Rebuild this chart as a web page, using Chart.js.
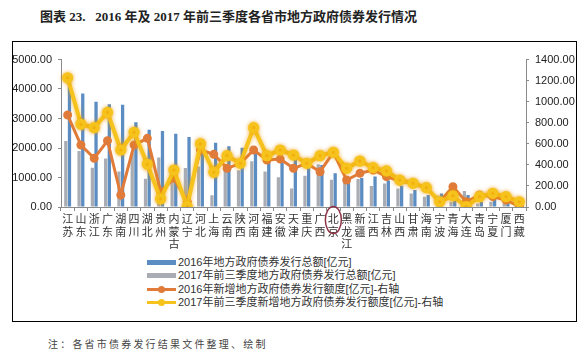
<!DOCTYPE html>
<html>
<head>
<meta charset="utf-8">
<script src="https://cdn.jsdelivr.net/npm/chart.js@4/dist/chart.umd.min.js"></script>
<style>
  body { margin: 0; width: 586px; height: 354px; background: #fff; position: relative; overflow: hidden;
    font-family: "Liberation Sans", "Noto Sans CJK SC", sans-serif; }
  #title { position: absolute; left: 40px; top: 6px; font-family: "Liberation Serif", "Noto Sans CJK SC", serif;
    font-weight: bold; font-size: 13px; color: #222; white-space: nowrap; }
  #box { position: absolute; left: 12px; top: 41px; width: 563px; height: 279px; border: 1px solid #000; overflow: hidden; }
  #chart { position: absolute; left: 0; top: 0; }
  #legend { position: absolute; left: 134px; top: 214px; font-size: 11px; color: #333; }
  #legend .row { height: 13.4px; line-height: 13.4px; white-space: nowrap; position: relative; }
  #legend .swatch { display: inline-block; width: 29px; height: 13px; vertical-align: top; position: relative; margin-right: 2px; }
  #legend .swatch i { position: absolute; left: 0; right: 0; top: 50%; }
  #legend .swatch b { position: absolute; left: 50%; top: 50%; border-radius: 50%; }
  #note { position: absolute; left: 48px; top: 336px; font-size: 10px; letter-spacing: 2.2px; color: #444; white-space: nowrap;
    font-family: "Noto Sans CJK SC", sans-serif; }
</style>
</head>
<body>
<div id="title">图表 23.&nbsp;&nbsp; 2016 年及 2017 年前三季度各省市地方政府债券发行情况</div>
<div id="box">
  <canvas id="chart" width="563" height="210"></canvas>
  <div id="legend"></div>
</div>
<div id="note">注：各省市债券发行结果文件整理、绘制</div>
<script>
// --data
var categories = ['江苏', '山东', '浙江', '广东', '湖南', '四川', '湖北', '贵州', '内蒙古', '辽宁', '河北', '上海',
  '云南', '陕西', '河南', '福建', '安徽', '天津', '重庆', '广西', '北京', '黑龙江', '新疆', '江西', '吉林', '山西',
  '甘肃', '海南', '宁波', '青海', '大连', '青岛', '宁夏', '厦门', '西藏'];
var total2016 = [4300, 3850, 3570, 3480, 3470, 2870, 2620, 2580, 2480, 2370, 2300, 2180, 2060, 2010, 1820, 1600,
  1540, 1630, 1310, 1420, 1140, 880, 980, 1030, 900, 720, 580, 410, 460, 290, 410, 180, 320, 180, 130];
var total2017 = [2240, 1900, 1330, 1640, 1200, 1850, 960, 1680, 1100, 1320, 1370, 400, 1300, 1250, 1550, 1200,
  1010, 630, 1060, 1450, 920, 830, 950, 710, 800, 630, 460, 350, 380, 180, 540, 120, 180, 120, 70];
var new2016 = [873, 588, 462, 629, 114, 588, 652, 145, 272, 50, 541, 500, 367, 414, 541, 446, 455, 367, 414, 335,
  519, 256, 320, 351, 288, 247, 225, 183, 50, 193, 50, 114, 98, 66, 5];
var new2017 = [1227, 785, 753, 898, 541, 709, 405, 76, 351, 3, 600, 329, 487, 414, 753, 487, 541, 493, 414, 487,
  519, 367, 436, 373, 342, 256, 225, 183, 50, 107, 3, 98, 130, 98, 50];
var leftTicks = [0, 5000, 500];
var rightTicks = [0, 1400, 200];
var seriesNames = ['2016年地方政府债券发行总额[亿元]', '2017年前三季度地方政府债券发行总额[亿元]',
  '2016年新增地方政府债券发行额度[亿元]-右轴', '2017年前三季度新增地方政府债券发行额度[亿元]-右轴'];
var circled = '北京';

var labelFont = {family: '"Liberation Sans", "Noto Sans CJK SC", sans-serif', size: 11};

// soft glow for the yellow line
var glow = {
  id: 'glow',
  beforeDatasetDraw: function(chart, args) {
    if (args.index === 3) {
      chart.ctx.save();
      chart.ctx.shadowColor = 'rgba(240,160,0,0.7)';
      chart.ctx.shadowBlur = 4;
    }
  },
  afterDatasetDraw: function(chart, args) {
    if (args.index === 3) chart.ctx.restore();
  }
};

// red ring round one category label
var ring = {
  id: 'ring',
  afterDraw: function(chart) {
    var x = chart.scales.x.getPixelForValue(categories.indexOf(circled));
    var y = chart.chartArea.bottom + 13;
    var ctx = chart.ctx;
    ctx.save();
    ctx.strokeStyle = '#8e3346';
    ctx.lineWidth = 1.5;
    ctx.beginPath();
    ctx.ellipse(x, y, 8, 13.5, 0, 0, Math.PI * 2);
    ctx.stroke();
    ctx.restore();
  }
};

var colors = ['#5b8cc2', '#a9acb2', '#e07b3a', '#f6c21c'];

var chart = new Chart(document.getElementById('chart'), {
  type: 'bar',
  data: {
    labels: categories,
    datasets: [
      {label: seriesNames[0], data: total2016, backgroundColor: colors[0], yAxisID: 'y', order: 3,
        categoryPercentage: 0.55, barPercentage: 0.9},
      {label: seriesNames[1], data: total2017, backgroundColor: colors[1], yAxisID: 'y', order: 2,
        categoryPercentage: 0.55, barPercentage: 0.9},
      {label: seriesNames[2], type: 'line', data: new2016, borderColor: colors[2], backgroundColor: colors[2],
        borderWidth: 3, pointRadius: 3, pointHoverRadius: 3, yAxisID: 'y1', order: 1},
      {label: seriesNames[3], type: 'line', data: new2017, borderColor: colors[3], backgroundColor: colors[3],
        borderWidth: 4, pointRadius: 3.6, pointHoverRadius: 3.6, yAxisID: 'y1', order: 0}
    ]
  },
  options: {
    responsive: false,
    animation: false,
    layout: {padding: {top: 17.5, left: 0, right: 0, bottom: 0}},
    plugins: {legend: {display: false}, tooltip: {enabled: false}},
    scales: {
      x: {
        grid: {drawOnChartArea: false, tickLength: 4, color: '#8a8a8a'},
        border: {color: '#8a8a8a'},
        ticks: {
          autoSkip: false, maxRotation: 0, minRotation: 0, padding: 3, color: '#333',
          font: {family: labelFont.family, size: 11, lineHeight: 1.12},
          callback: function(v, i) { return categories[i].split(''); }
        },
        afterFit: function(scale) { scale.height = 45; }
      },
      y: {
        position: 'left', min: leftTicks[0], max: leftTicks[1],
        grid: {drawOnChartArea: false, tickLength: 3, color: '#8a8a8a'},
        border: {color: '#8a8a8a'},
        ticks: {stepSize: leftTicks[2], padding: 6, color: '#222', font: labelFont,
          callback: function(v) { return v.toFixed(2); }},
        afterFit: function(scale) { scale.width = 48; }
      },
      y1: {
        position: 'right', min: rightTicks[0], max: rightTicks[1],
        grid: {drawOnChartArea: false, tickLength: 3, color: '#8a8a8a'},
        border: {color: '#8a8a8a'},
        ticks: {stepSize: rightTicks[2], padding: 6, color: '#222', font: labelFont,
          callback: function(v) { return v.toFixed(2); }},
        afterFit: function(scale) { scale.width = 50; }
      }
    }
  },
  plugins: [glow, ring]
});

// --legend, one entry per row
var legend = document.getElementById('legend');
chart.data.datasets.forEach(function(ds, i) {
  var row = document.createElement('div');
  row.className = 'row';
  var sw = '<span class="swatch">';
  if (ds.type === 'line') {
    sw += '<i style="height:3px;margin-top:-1.5px;background:' + ds.borderColor + '"></i>' +
      '<b style="width:7px;height:7px;margin:-3.5px 0 0 -3.5px;background:' + ds.borderColor + '"></b>';
  } else {
    sw += '<i style="height:5px;margin-top:-2.5px;background:' + ds.backgroundColor + '"></i>';
  }
  sw += '</span>';
  row.innerHTML = sw + ds.label;
  legend.appendChild(row);
});
</script>
</body>
</html>
